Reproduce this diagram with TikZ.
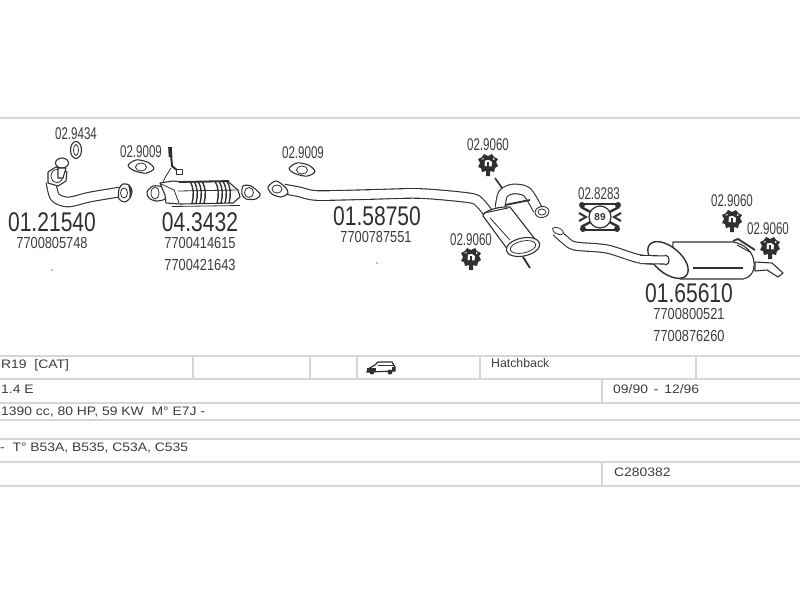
\documentclass[tikz,border=0pt]{standalone}
\usepackage{fontspec}
\setmainfont{Liberation Sans}
\newfontfamily\bigf[FakeStretch=0.78]{Liberation Sans}
\newfontfamily\midf[FakeStretch=0.80]{Liberation Sans}
\newfontfamily\smallf[FakeStretch=0.68]{Liberation Sans}
\newfontfamily\cellf[FakeStretch=1.13]{Liberation Sans}
\usetikzlibrary{calc}
\definecolor{ink}{HTML}{303030}
\definecolor{txt}{HTML}{3C3C3C}
\definecolor{rulec}{HTML}{D6D6D6}
\tikzset{
  rulel/.style={draw=rulec,line width=1.8pt},
  bignum/.style={text=ink,inner sep=0pt,font=\bigf\fontsize{27}{27}\selectfont},
  midnum/.style={text=txt,inner sep=0pt,font=\midf\fontsize{16}{16}\selectfont},
  refnum/.style={text=txt,inner sep=0pt,font=\smallf\fontsize{17}{17}\selectfont},
  cell/.style={text=txt,inner sep=0pt,anchor=west,font=\cellf\fontsize{12.3}{12.3}\selectfont},
  pipe/.style={draw=ink,line width=1.1pt,double=white,double distance=8.5pt,line join=round},
  part/.style={draw=ink,line width=1.1pt,fill=white,line join=round},
  thinl/.style={draw=ink,line width=.8pt},
  gasket/.pic={
    \draw[part,rotate=-12] plot[smooth cycle] coordinates {(-13pt,-1pt)(-6pt,-5pt)(6pt,-5pt)(13pt,1pt)(6pt,6pt)(-6pt,6pt)};
    \draw[thinl] (0pt,0pt) ellipse[x radius=5.5pt,y radius=4pt];
  },
  nutp/.pic={
    \fill[ink] (-10pt,-3pt) -- (-7pt,-4pt) -- (-6pt,-8pt) -- (-2pt,-7pt) -- (-2pt,-12pt) -- (2pt,-12pt) -- (2pt,-7pt) -- (6pt,-8pt) -- (7pt,-4pt) -- (10pt,-2pt) -- (8pt,2pt) -- (10pt,5pt) -- (6pt,7pt) -- (4pt,10pt) -- (0pt,8pt) -- (-4pt,10pt) -- (-6pt,7pt) -- (-10pt,5pt) -- (-8pt,1pt) -- cycle;
    \fill[white] (-3.5pt,-2pt) -- (3.5pt,-2.5pt) -- (4pt,2pt) -- (1pt,4pt) -- (-3pt,3.5pt) -- cycle;
    \fill[ink] (-1pt,-3pt) rectangle (1pt,2pt);
    \fill[white] (-7pt,5pt) -- (-4pt,6pt) -- (-5pt,4.5pt) -- cycle;
    \fill[white] (5pt,4pt) -- (7pt,5pt) -- (5pt,6pt) -- cycle;
  },
  flange/.pic={
    \draw[part] plot[smooth cycle] coordinates {(-6pt,-6pt)(0pt,-9pt)(5pt,-5pt)(7pt,2pt)(4pt,8pt)(-2pt,9pt)(-6pt,4pt)};
    \draw[thinl] (-1pt,0pt) ellipse[x radius=3.5pt,y radius=5pt];
    \fill[ink] (4pt,-5pt) .. controls (8pt,-1pt) and (8pt,4pt) .. (3pt,8pt) .. controls (5pt,3pt) and (5pt,-2pt) .. cycle;
  }
}
\begin{document}
\begin{tikzpicture}[x=1pt,y=-1pt]
\useasboundingbox (0,0) rectangle (800,600);
% rules
\draw[rulel,line width=2.2pt] (0,118) -- (800,118);
\foreach \yy in {356,379,403,420,439,462,486} \draw[rulel] (0,\yy) -- (800,\yy);
\foreach \xx in {193,310,357,480,696} \draw[rulel] (\xx,356) -- (\xx,379);
\draw[rulel] (602,379) -- (602,403);
\draw[rulel] (602,462) -- (602,486);

% --- part 1: front pipe
\draw[pipe] plot[smooth] coordinates {(51,182)(55,197)(68,202)(90,197)(120,192)};
\draw[part] (48,172) -- (56,167) -- (67,172) -- (66,181) -- (58,186) -- (48,183) -- cycle;
\draw[thinl,fill=white] (57,176) ellipse[x radius=6pt,y radius=6.5pt];
\draw[part] (62,163) ellipse[x radius=6.5pt,y radius=5pt];
\draw[part] (58,168) -- (66,168) -- (63,178) -- (58,178) -- cycle;
\pic at (125,193) {flange};
\draw[part] (76,150) ellipse[x radius=5.5pt,y radius=8.5pt];
\draw[thinl] (76,150) ellipse[x radius=2.5pt,y radius=5.5pt];

% --- gasket and sensor
\pic at (141,167) {gasket};
\draw[ink,line width=2pt] (171,154) -- (172,166) -- (178,171);
\draw[part,line width=.8pt] (176,169) rectangle (182,174);
\draw[ink,line width=3.6pt] (170,147) -- (170.5,157);
\draw[thinl] (171,168) -- (166,176) -- (163,182);

% --- part 2: catalytic converter
\draw[part] plot[smooth cycle] coordinates {(147,192)(153,186)(163,187)(166,192)(165,199)(156,201)(149,198)};
\draw[thinl] (155,193) ellipse[x radius=4pt,y radius=6pt];
\draw[part] plot[smooth cycle] coordinates {(243,186)(251,186)(260,194)(256,199)(246,199)(242,194)};
\draw[thinl] (249,192.5) ellipse[x radius=4.5pt,y radius=5pt];
\draw[part] (160,183) -- (173,181) -- (183,182) -- (228,181.5) -- (238,190) -- (240,197) -- (233,203) -- (180,204) -- (166,203) -- (165,195) -- cycle;
\foreach \xx in {190,194,198,202,215,219,223,227}
  \draw[ink,line width=1.4pt] (\xx,181.5) .. controls (\xx+4,188) and (\xx+4,195) .. (\xx+2,203);
\draw[thinl] (161,184) -- (174,190) -- (179,203);
\draw[thinl] (178,191) -- (238,190);
\draw[ink,line width=1.8pt] (179,182) -- (229,181);
\draw[thinl] (172,206.5) -- (240,205.5);

% --- gasket 2
\pic at (302,170) {gasket};

% --- part 3: middle pipe with silencer
\draw[pipe] plot[smooth] coordinates {(284,189)(300,192)(317,195.5)(370,194.5)(420,193.5)(470,198)(480,203)(489,214)};
\draw[part] plot[smooth cycle] coordinates {(268,187)(276,181)(285,187)(288,193)(281,197)(272,194)};
\draw[part,line width=.8pt] (277,189) ellipse[x radius=5pt,y radius=4pt];
% outlet arch
\draw[pipe] plot[smooth] coordinates {(500,208)(503,194)(513,189)(527,192)(538,210)};
\draw[part,line width=.9pt,rotate around={10:(542,212)}] (542,212) ellipse[x radius=7pt,y radius=5.5pt];
\draw[thinl] (542,212) ellipse[x radius=4pt,y radius=3pt];
\draw[ink,line width=1.8pt] (505,205) -- (530,200);
% hangers
\draw[ink,line width=1.6pt] (495,178) -- (502,188);
\draw[ink,line width=1.8pt] (523,257) -- (530,268);
% silencer body
\draw[part] (483,216) .. controls (482,212) and (497,206) .. (510,207) -- (538,243)
  -- (508,250) -- cycle;
\draw[thinl] (490,218) -- (510,240);
\draw[ink,line width=1pt] (484,213) -- (508,208);
\draw[part,rotate around={12:(523,247)}] (523,247) ellipse[x radius=17pt,y radius=9pt];
\draw[thinl,rotate around={12:(523,247)}] (523,247) ellipse[x radius=13pt,y radius=6pt];

% --- bracket 02.8283
\begin{scope}[shift={(600,217)}]
  \draw[ink,line width=2.4pt] (-19,-10) -- (19,10);
  \draw[ink,line width=2.4pt] (19,-10) -- (-19,10);
  \draw[ink,line width=2pt] (-20,-13) -- (20,-13);
  \draw[ink,line width=2pt] (-18,13) -- (18,13);
  \draw[ink,line width=2pt] (-21,-4) -- (-14,0) -- (-21,4);
  \draw[ink,line width=2pt] (21,-4) -- (14,0) -- (21,4);
  \foreach \xx/\yy in {-18/-12,18/-12,-17/12,17/12} \fill[ink] (\xx,\yy) circle[radius=3pt];
  \node[circle,draw=ink,fill=white,line width=1.2pt,inner sep=0pt,minimum size=22pt,text=ink,font=\bfseries\fontsize{10}{10}\selectfont] (bracket) at (0,0) {89};
\end{scope}

% --- part 4: rear pipe with silencer
\draw[pipe,double distance=7pt] plot[smooth] coordinates {(556,232)(565,240)(575,246)(607,249)(640,259)(668,260)};
\draw[part,line width=.8pt,rotate around={-25:(558,231)}] (558,231) ellipse[x radius=6pt,y radius=3pt];
\draw[part] (755,262) -- (772,263) -- (783,273) -- (778,277) -- (767,270) -- (755,271) -- cycle;
\draw[part] (673,242) -- (733,242) .. controls (745,244) and (753,252) .. (754,262) .. controls (755,272) and (750,278) .. (743,279) -- (680,279) -- (672,262) -- cycle;
\draw[ink,line width=1.3pt] (693,268) -- (743,268);
\draw[part,line width=1.4pt,rotate around={-40:(668,260)}] (668,260) ellipse[x radius=24pt,y radius=13pt];
\draw[pipe,double distance=7pt] (640,259.5) -- (665,260);
\draw[ink,line width=1.1pt,fill=white] (665,255) .. controls (670,255) and (671,265) .. (665,265);
\draw[ink,line width=1.8pt] (733,241) -- (738,239) -- (755,250);
\draw[ink,line width=1pt] (737,245) -- (750,252);

% --- nuts
\pic at (488,164) {nutp};
\pic at (471,258) {nutp};
\pic at (732,220) {nutp};
\pic at (770,247) {nutp};

% --- car icon
\begin{scope}[shift={(381,367)}]
  \draw[ink,line width=1.2pt,fill=white] (-13,2) -- (-6,-2) -- (-3,-5) -- (11,-5) -- (14,0) -- (14,4) -- (-14,5) -- cycle;
  \draw[ink,line width=1pt] (-3,-2) -- (13,-2);
  \fill[ink] (-14,1) rectangle (-5,5);
  \fill[ink] (-9,5) circle[radius=2.5pt];
  \fill[ink] (9,5) circle[radius=2.5pt];
  \fill[ink] (11,0) rectangle (14,4);
\end{scope}

% --- dots
\fill[txt!70] (52,270) circle[radius=.9pt];
\fill[txt!70] (377,263) circle[radius=.9pt];

% --- reference labels
\node[refnum] (r1) at (76,134) {02.9434};
\node[refnum] (r2) at (141,152) {02.9009};
\node[refnum] (r3) at (303,153) {02.9009};
\node[refnum] (r4) at (488,145) {02.9060};
\node[refnum] (r5) at (471,240) {02.9060};
\node[refnum] (r6) at (599,194) {02.8283};
\node[refnum] (r7) at (732,201) {02.9060};
\node[refnum] (r8) at (768,229) {02.9060};

\node[bignum] (p1) at (52,222) {01.21540};
\node[midnum] (p1a) at (52,243) {7700805748};
\node[bignum] (p2) at (200,222) {04.3432};
\node[midnum] (p2a) at (200,243) {7700414615};
\node[midnum] (p2b) at (200,265) {7700421643};
\node[bignum] (p3) at (377,216) {01.58750};
\node[midnum] (p3a) at (376,237) {7700787551};
\node[bignum] (p4) at (689,293) {01.65610};
\node[midnum] (p4a) at (689,314) {7700800521};
\node[midnum] (p4b) at (689,336) {7700876260};

% --- table text
\node[cell] (t1) at (1,365) {R19 \ [CAT]};
\node[cell] (t2) at (1,389) {1.4 E};
\node[cell] (t3) at (1,412) {1390 cc, 80 HP, 59 KW \ M° E7J -};
\node[cell] (t4) at (0,448) {- \ T° B53A, B535, C53A, C535};
\node[cell,font=\fontsize{12.3}{12.3}\selectfont] (t5) at (491,363) {Hatchback};
\node[cell] (t6) at (613,389) {09/90 \,-\, 12/96};
\node[cell] (t7) at (614,472) {C280382};
\end{tikzpicture}
\end{document}
